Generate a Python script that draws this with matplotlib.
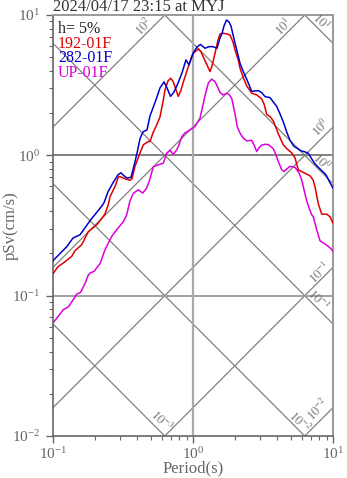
import numpy as np
import matplotlib
matplotlib.use("Agg")
import matplotlib.pyplot as plt

plt.rcParams["font.family"] = ["Liberation Serif", "DejaVu Serif"]
plt.rcParams["mathtext.fontset"] = "stix"

title = "2024/04/17 23:15 at MYJ"
damping = "h= 5%"
names = ["192-01F", "282-01F", "UP-01F"]
colors = ["#dd0000", "#0000cc", "#dd00dd"]

# 192-01F
t_red = [0.100, 0.1086, 0.1185, 0.136, 0.1436, 0.1603, 0.1741, 0.1787, 0.2052, 0.2287,
         0.2352, 0.2483, 0.2553, 0.2773, 0.2928, 0.301, 0.3268, 0.3548, 0.3666, 0.3852,
         0.418, 0.4416, 0.4793, 0.493, 0.518, 0.5506, 0.581, 0.6138, 0.631, 0.663,
         0.693, 0.7236, 0.7563, 0.7852, 0.8209, 0.8624, 0.9257, 0.9788, 1.005, 1.091,
         1.141, 1.185, 1.259, 1.323, 1.367, 1.436, 1.509, 1.56, 1.646, 1.750,
         1.838, 1.931, 1.995, 2.107, 2.167, 2.276, 2.419, 2.626, 2.851, 3.095,
         3.215, 3.361, 3.548, 3.748, 4.068, 4.416, 4.694, 5.07, 5.354, 5.651,
         6.31, 6.849, 7.196, 7.437, 7.852, 8.304, 9.016, 9.52, 10.0]
sv_red = [0.1434, 0.1609, 0.1709, 0.1905, 0.209, 0.2307, 0.2717, 0.2854, 0.3200, 0.3667,
          0.3833, 0.4443, 0.5066, 0.5997, 0.6996, 0.7066, 0.6804, 0.6641, 0.6804, 0.835,
          1.037, 1.188, 1.254, 1.254, 1.446, 1.649, 1.879, 2.483, 2.925, 3.391,
          3.544, 3.336, 2.925, 2.630, 2.925, 3.447, 4.285, 5.049, 5.338, 5.728,
          5.453, 5.024, 4.407, 3.949, 4.335, 5.338, 6.640, 7.323, 7.408, 7.323,
          7.204, 6.423, 5.636, 4.784, 4.175, 3.620, 3.124, 2.772, 2.696, 2.524,
          2.325, 1.958, 1.889, 1.760, 1.422, 1.188, 1.112, 1.042, 0.9598, 0.7885,
          0.7446, 0.7147, 0.6694, 0.5968, 0.4516, 0.3815, 0.3806, 0.3650, 0.3292]

# 282-01F
t_blue = [0.100, 0.1259, 0.1389, 0.156, 0.1838, 0.2239, 0.2313, 0.2471, 0.2683, 0.2913,
          0.306, 0.3215, 0.3379, 0.3607, 0.379, 0.398, 0.418, 0.4394, 0.4694, 0.493,
          0.518, 0.553, 0.581, 0.621, 0.652, 0.691, 0.732, 0.781, 0.834, 0.891,
          0.936, 1.000, 1.068, 1.131, 1.218, 1.301, 1.389, 1.484, 1.56, 1.611,
          1.665, 1.735, 1.808, 1.868, 1.995, 2.167, 2.276, 2.431, 2.626, 2.774,
          2.928, 3.112, 3.268, 3.548, 3.962, 4.182, 4.416, 4.694, 4.93, 5.264,
          5.534, 5.908, 6.31, 6.661, 7.044, 7.437, 7.852, 8.34, 8.91, 9.36, 10.0]
sv_blue = [0.1775, 0.2244, 0.2574, 0.2717, 0.3419, 0.4370, 0.4590, 0.5497, 0.6373, 0.7265,
           0.7506, 0.7147, 0.6882, 0.6973, 0.842, 1.033, 1.310, 1.470, 1.518, 1.910,
           2.178, 2.609, 3.023, 3.336, 3.023, 2.630, 2.831, 3.266, 3.866, 4.784,
           4.407, 5.321, 5.918, 6.166, 5.794, 5.949, 5.949, 5.794, 6.861, 7.383,
           8.349, 9.213, 8.917, 8.349, 6.319, 4.531, 3.995, 3.447, 2.854, 2.878,
           2.892, 2.785, 2.621, 2.578, 2.233, 1.974, 1.731, 1.446, 1.279, 1.159,
           1.125, 1.076, 1.059, 1.033, 0.9443, 0.870, 0.821, 0.7757, 0.7265, 0.6586, 0.5842]

# UP-01F
t_mag = [0.100, 0.1086, 0.1185, 0.1286, 0.1396, 0.1476, 0.1572, 0.1692, 0.1778, 0.1838,
         0.1963, 0.2107, 0.2167, 0.2352, 0.2471, 0.2626, 0.2851, 0.301, 0.3178, 0.3361,
         0.3548, 0.3748, 0.4068, 0.4371, 0.4670, 0.493, 0.5205, 0.5651, 0.6138, 0.6489,
         0.6849, 0.7236, 0.7646, 0.7852, 0.8304, 0.8770, 0.9519, 1.0335, 1.122, 1.179,
         1.218, 1.286, 1.360, 1.436, 1.509, 1.56, 1.638, 1.741, 1.808, 1.890,
         1.941, 1.995, 2.073, 2.167, 2.276, 2.419, 2.626, 2.728, 2.851, 2.961,
         3.095, 3.268, 3.451, 3.649, 3.748, 3.917, 4.068, 4.302, 4.467, 4.694,
         4.93, 5.354, 5.717, 5.976, 6.209, 6.489, 6.74, 7.044, 7.236, 7.646,
         8.075, 8.770, 9.257, 9.676, 10.0]
sv_mag = [0.0639, 0.0709, 0.0795, 0.0831, 0.0937, 0.1025, 0.1055, 0.1217, 0.1388, 0.1450,
          0.1489, 0.1635, 0.1690, 0.2126, 0.2345, 0.2643, 0.2949, 0.3150, 0.3363, 0.3771,
          0.4744, 0.5364, 0.5682, 0.5383, 0.5842, 0.6804, 0.8283, 0.8559, 0.8801, 1.037,
          1.085, 1.016, 1.094, 1.155, 1.354, 1.446, 1.518, 1.603, 1.840, 2.288,
          2.652, 3.266, 3.493, 3.352, 3.023, 2.808, 2.696, 2.763, 2.718, 2.553,
          2.250, 1.974, 1.595, 1.439, 1.332, 1.268, 1.279, 1.188, 1.064, 1.131,
          1.182, 1.198, 1.194, 1.140, 1.112, 1.008, 0.9035, 0.7885, 0.7668, 0.8015,
          0.835, 0.821, 0.7506, 0.6694, 0.5682, 0.4744, 0.4229, 0.3771, 0.3650, 0.2949,
          0.2463, 0.2333, 0.2243, 0.2161, 0.2066]

# tripartite lines: pseudo acceleration (cm/s2) and displacement (cm)
acc_levels = [1e-2, 1e-1, 1e0, 1e1, 1e2]
disp_levels = [1e-3, 1e-2, 1e-1, 1e0, 1e1]

fig = plt.figure(figsize=(3.47, 4.78), dpi=100)
ax = fig.add_axes([53 / 347, 42 / 478, 280 / 347, 421 / 478])
ax.set_xscale("log")
ax.set_yscale("log")
ax.set_xlim(0.1, 10)
ax.set_ylim(0.01, 10)

grey = "#808080"
tt = np.logspace(-1, 1, 200)
for a in acc_levels:
    ax.plot(tt, a * tt / (2 * np.pi), color=grey, lw=0.9, zorder=1)
for d in disp_levels:
    ax.plot(tt, 2 * np.pi * d / tt, color=grey, lw=0.9, zorder=1)

ax.axhline(1, color="#777777", lw=1.3, zorder=1)
ax.axhline(0.1, color="#999999", lw=1.3, zorder=1)
ax.axvline(1, color="#aaaaaa", lw=1.6, zorder=1)


def exp_label(v):
    return r"$10^{%d}$" % int(round(np.log10(v)))


# labels on the diagonal lines: T on the line and offset (px)
acc_lab_t = {1e2: 0.484, 1e1: 4.77, 1e0: 9.0, 1e-1: 8.55, 1e-2: 8.7}
acc_lab_off = {1e2: 4.5, 1e1: 4.5, 1e0: 6, 1e-1: 4, 1e-2: 6.5}
for a in acc_levels:
    t0 = acc_lab_t[a]
    o = acc_lab_off[a] * 0.72
    ax.annotate(exp_label(a), (t0, a * t0 / (2 * np.pi)), xytext=(-o, o),
                textcoords="offset points", rotation=45, ha="center", va="center",
                fontsize=9, color="#707070", rotation_mode="anchor")

disp_lab_t = {1e1: 7.6, 1e0: 7.65, 1e-1: 7.26, 1e-2: 5.37, 1e-3: 0.542}
disp_lab_off = {1e1: 5, 1e0: 5, 1e-1: 5, 1e-2: 4.5, 1e-3: 5.5}
for d in disp_levels:
    t0 = disp_lab_t[d]
    o = disp_lab_off[d] * 0.72
    ax.annotate(exp_label(d), (t0, 2 * np.pi * d / t0), xytext=(o, o),
                textcoords="offset points", rotation=-45, ha="center", va="center",
                fontsize=9, color="#707070", rotation_mode="anchor")

ax.plot(t_mag, sv_mag, color=colors[2], lw=1.1, zorder=3)
ax.plot(t_red, sv_red, color=colors[0], lw=1.1, zorder=4)
ax.plot(t_blue, sv_blue, color=colors[1], lw=1.1, zorder=5)

legend_y = [0.930, 0.8967, 0.8622]
ax.text(0.017, 0.9665, damping, transform=ax.transAxes, fontsize=11.5, color="#222222",
        va="center", ha="left")
for n, c, y in zip(names, colors, legend_y):
    ax.text(0.017, y, n, transform=ax.transAxes, fontsize=11.5,
            color=c, va="center", ha="left")

fig.text(53 / 347, 1 - 7 / 478, title, fontsize=12, color="#333333",
         ha="left", va="center")

ax.set_xlabel("Period(s)", fontsize=12, color="#666666")
ax.set_ylabel("pSv(cm/s)", fontsize=12, color="#666666")
ax.xaxis.set_label_coords(0.5, -0.058)
ax.yaxis.set_label_coords(-0.152, 0.50)
ax.xaxis.label.set_va("top")
ax.yaxis.label.set_va("center")

for side in ["left", "bottom"]:
    ax.spines[side].set_color("#666666")
    ax.spines[side].set_linewidth(1.2)
for side in ["top", "right"]:
    ax.spines[side].set_color("#999999")
    ax.spines[side].set_linewidth(1.4)

ax.tick_params(which="both", direction="out", colors="#666666", labelsize=11,
               top=False, right=False)
ax.tick_params(which="major", length=5, width=1)
ax.tick_params(which="minor", length=3, width=0.8)
ax.tick_params(axis="x", pad=2)
ax.tick_params(axis="y", pad=4)

fig.savefig("out.png", dpi=100)
